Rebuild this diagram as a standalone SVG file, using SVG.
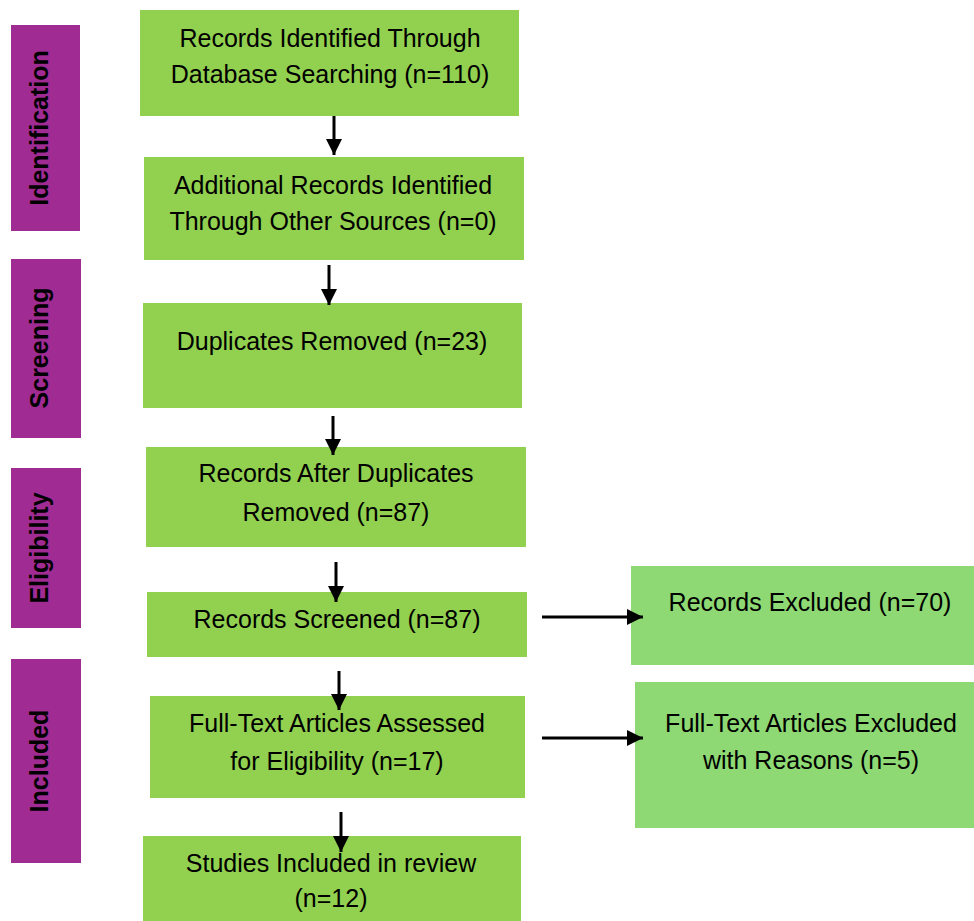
<svg xmlns="http://www.w3.org/2000/svg" width="974" height="921" viewBox="0 0 974 921">
<defs>
<style>
.box{fill:#92D050;}
.ex{fill:#8ED973;}
.bar{fill:#A02B93;}
.t{font-family:"Liberation Sans",Arial,sans-serif;font-size:25px;fill:#000;text-anchor:middle;}
.s{font-family:"Liberation Sans",Arial,sans-serif;font-size:25px;font-weight:bold;fill:#000;text-anchor:middle;}
.c{stroke:#000;stroke-width:3;fill:none;}
</style>
<marker id="ah" viewBox="0 0 10 10" refX="10" refY="5" markerWidth="5.5" markerHeight="5.5" orient="auto" markerUnits="strokeWidth">
<path d="M0,0 L10,5 L0,10 z" fill="#000"/>
</marker>
</defs>
<rect width="974" height="921" fill="#fff"/>
<g id="stage-identification"><rect class="bar" x="11" y="25" width="69" height="206"/><text class="s" transform="translate(48,128) rotate(-90)">Identification</text></g>
<g id="stage-screening"><rect class="bar" x="11" y="259" width="70" height="179"/><text class="s" transform="translate(48,348) rotate(-90)">Screening</text></g>
<g id="stage-eligibility"><rect class="bar" x="11" y="468" width="70" height="160"/><text class="s" transform="translate(48,548) rotate(-90)">Eligibility</text></g>
<g id="stage-included"><rect class="bar" x="11" y="659" width="70" height="204"/><text class="s" transform="translate(48,761) rotate(-90)">Included</text></g>
<g id="n1"><rect class="box" x="140" y="10" width="379" height="106"/><text class="t" x="330" y="47">Records Identified Through</text><text class="t" x="330" y="83">Database Searching (n=110)</text></g>
<g id="n2"><rect class="box" x="144" y="157" width="380" height="103"/><text class="t" x="333" y="194">Additional Records Identified</text><text class="t" x="333" y="230">Through Other Sources (n=0)</text></g>
<g id="n3"><rect class="box" x="143" y="303" width="379" height="105"/><text class="t" x="332" y="350">Duplicates Removed (n=23)</text></g>
<g id="n4"><rect class="box" x="146" y="447" width="380" height="100"/><text class="t" x="336" y="482">Records After Duplicates</text><text class="t" x="336" y="521">Removed (n=87)</text></g>
<g id="n5"><rect class="box" x="147" y="592" width="380" height="65"/><text class="t" x="337" y="628">Records Screened (n=87)</text></g>
<g id="n6"><rect class="box" x="150" y="696" width="375" height="102"/><text class="t" x="337" y="732">Full-Text Articles Assessed</text><text class="t" x="337" y="770">for Eligibility (n=17)</text></g>
<g id="n7"><rect class="box" x="143" y="836" width="378" height="85"/><text class="t" x="331" y="872">Studies Included in review</text><text class="t" x="331" y="907">(n=12)</text></g>
<g id="n8"><rect class="ex" x="631" y="566" width="343" height="99"/><text class="t" x="810" y="611">Records Excluded (n=70)</text></g>
<g id="n9"><rect class="ex" x="635" y="682" width="339" height="146"/><text class="t" x="811" y="732">Full-Text Articles Excluded</text><text class="t" x="811" y="769">with Reasons (n=5)</text></g>
<g id="connectors">
<line class="c" x1="334" y1="116" x2="334" y2="155" marker-end="url(#ah)"/>
<line class="c" x1="329" y1="265" x2="329" y2="305" marker-end="url(#ah)"/>
<line class="c" x1="333" y1="416" x2="333" y2="455" marker-end="url(#ah)"/>
<line class="c" x1="336" y1="562" x2="336" y2="602" marker-end="url(#ah)"/>
<line class="c" x1="339" y1="671" x2="339" y2="710" marker-end="url(#ah)"/>
<line class="c" x1="341" y1="812" x2="341" y2="852" marker-end="url(#ah)"/>
<line class="c" x1="542" y1="617" x2="643" y2="617" marker-end="url(#ah)"/>
<line class="c" x1="542" y1="738" x2="643" y2="738" marker-end="url(#ah)"/>
</g>
</svg>
